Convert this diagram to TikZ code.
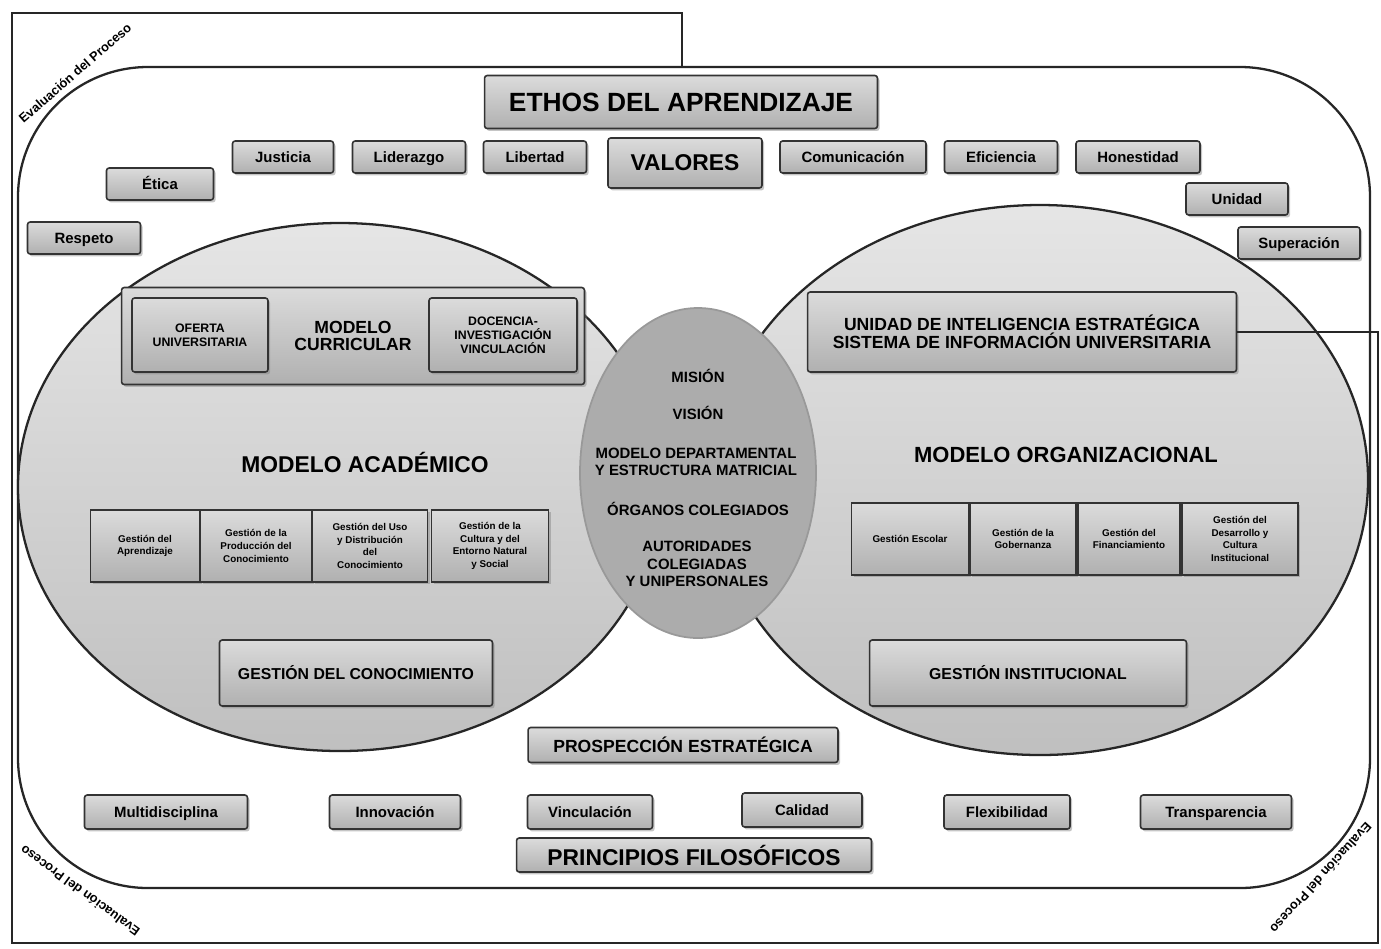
\documentclass[tikz,border=0pt]{standalone}
\usepackage{fontspec}
\setmainfont{Liberation Sans}
\usetikzlibrary{shadows}

\tikzset{
  caja/.style={draw=black!80, line width=0.9pt, rounded corners=1.5pt,
    top color=gray!28, bottom color=gray!62,
    drop shadow={shadow xshift=1.2pt, shadow yshift=-1.4pt, opacity=0.45},
    inner sep=1pt, align=center, font=\bfseries\fontsize{8.5}{9.5}\selectfont},
  valor/.style={caja, text height=1.6ex, text depth=0.4ex},
  grande/.style={caja, font=\bfseries\fontsize{#1}{#1}\selectfont},
  gestion/.style={caja, rounded corners=0pt, line width=1.1pt, font=\bfseries\fontsize{5.6}{7.2}\selectfont},
  texto/.style={align=center, font=\bfseries\fontsize{#1}{10}\selectfont},
  marco/.style={draw=black!85, line width=1.3pt},
  elipse/.style={draw=black!85, line width=1.3pt, top color=gray!20, bottom color=gray!50},
  rotulo/.style={font=\bfseries\fontsize{7.3}{8}\selectfont}
}

\begin{document}
\begin{tikzpicture}[x=0.02cm,y=-0.02cm]
\useasboundingbox (0,0) rectangle (1381,948);

% esquinas del marco exterior
\coordinate (m1) at (682,67);
\coordinate (m2) at (682,13);
\coordinate (m3) at (12,13);
\coordinate (m4) at (12,943);
\coordinate (m5) at (1378,943);
\coordinate (m6) at (1378,332);

\draw[marco, fill=white, rounded corners=2.6cm] (18,67) rectangle (1370,888);

% elipses
\draw[elipse] (340,487) ellipse [x radius=322, y radius=264];
\draw[elipse] (1040,480) ellipse [x radius=328, y radius=275];
\draw[draw=gray!80, line width=1pt, fill=gray!65] (698,473) ellipse [x radius=118, y radius=165];

% ethos y valores
\node[grande=15, minimum width=7.86cm, minimum height=1.06cm] (ethos) at (681,102) {ETHOS DEL APRENDIZAJE};
\node[grande=13, minimum width=3.08cm, minimum height=1cm] (valores) at (685,163) {VALORES};

\foreach \n/\x/\y/\w/\t in {jus/283/157/2.02/Justicia, lid/409/157/2.26/Liderazgo,
  lib/535/157/2.06/Libertad, com/853/157/2.92/Comunicación, efi/1001/157/2.26/Eficiencia,
  hon/1138/157/2.48/Honestidad, eti/160/184/2.14/Ética, res/84/238/2.26/Respeto,
  uni/1237/199/2.04/Unidad, sup/1299/243/2.44/Superación}
  \node[valor, minimum width=\w cm, minimum height=0.64cm] (\n) at (\x,\y) {\t};

% modelo academico
\node[grande=10, minimum width=9.26cm, minimum height=1.94cm] (mc) at (353,336) {MODELO\\CURRICULAR};
\node[caja, font=\bfseries\fontsize{7}{8}\selectfont, minimum width=2.72cm, minimum height=1.48cm] (ofe) at (200,335) {OFERTA\\UNIVERSITARIA};
\node[caja, font=\bfseries\fontsize{7}{8}\selectfont, minimum width=2.96cm, minimum height=1.48cm] (doc) at (503,335) {DOCENCIA-\\INVESTIGACIÓN\\VINCULACIÓN};
\node[texto=13] (acad) at (365,462) {MODELO ACADÉMICO};

\node[gestion, minimum width=2.18cm, minimum height=1.44cm] (ga) at (145,546) {Gestión del\\Aprendizaje};
\node[gestion, minimum width=2.22cm, minimum height=1.44cm] (gp) at (256,546) {Gestión de la\\Producción del\\Conocimiento};
\node[gestion, minimum width=2.30cm, minimum height=1.44cm] (gu) at (370,546) {Gestión del Uso\\y Distribución\\del\\Conocimiento};
\node[gestion, minimum width=2.34cm, minimum height=1.44cm] (gc) at (490,546) {Gestión de la\\Cultura y del\\Entorno Natural\\y Social};
\node[grande=9, minimum width=5.46cm, minimum height=1.32cm] (gcon) at (356,673) {GESTIÓN DEL CONOCIMIENTO};

% elipse central
\node[texto=8.5] (mis) at (698,376) {MISIÓN};
\node[texto=8.5] (vis) at (698,413) {VISIÓN};
\node[texto=8.5] (dep) at (696,462) {MODELO DEPARTAMENTAL\\Y ESTRUCTURA MATRICIAL};
\node[texto=8.5] (org) at (698,509) {ÓRGANOS COLEGIADOS};
\node[texto=8.5] (aut) at (697,564) {AUTORIDADES\\COLEGIADAS\\Y UNIPERSONALES};

% modelo organizacional
\node[grande=10, minimum width=8.58cm, minimum height=1.6cm] (uie) at (1022,332) {UNIDAD DE INTELIGENCIA ESTRATÉGICA\\SISTEMA DE INFORMACIÓN UNIVERSITARIA};
\node[texto=12.5] (orga) at (1066,455) {MODELO ORGANIZACIONAL};

\node[gestion, minimum width=2.34cm, minimum height=1.44cm] (ge) at (910,539) {Gestión Escolar};
\node[gestion, minimum width=2.12cm, minimum height=1.44cm] (gg) at (1023,539) {Gestión de la\\Gobernanza};
\node[gestion, minimum width=2.04cm, minimum height=1.44cm] (gf) at (1129,539) {Gestión del\\Financiamiento};
\node[gestion, minimum width=2.32cm, minimum height=1.44cm] (gd) at (1240,539) {Gestión del\\Desarrollo y\\Cultura\\Institucional};
\node[grande=9, minimum width=6.34cm, minimum height=1.32cm] (gins) at (1028,673) {GESTIÓN INSTITUCIONAL};

% principios
\node[grande=10, minimum width=6.2cm, minimum height=0.7cm] (pros) at (683,745) {PROSPECCIÓN ESTRATÉGICA};

\foreach \n/\x/\y/\w/\t in {mul/166/812/3.26/Multidisciplina, inn/395/812/2.62/Innovación,
  vin/590/812/2.5/Vinculación, cal/802/810/2.4/Calidad, fle/1007/812/2.52/Flexibilidad,
  tra/1216/812/3.02/Transparencia}
  \node[valor, minimum width=\w cm, minimum height=0.68cm] (\n) at (\x,\y) {\t};

\node[grande=13, minimum width=7.1cm, minimum height=0.68cm] (pf) at (694,855) {PRINCIPIOS FILOSÓFICOS};

% marco exterior
\draw[marco] (uie.east) -- (m6) -- (m5) -- (m4) -- (m3) -- (m2) -- (m1);

\node[rotulo, rotate=41] (ev1) at (75,73) {Evaluación del Proceso};
\node[rotulo, rotate=144] (ev2) at (80,891) {Evaluación del Proceso};
\node[rotulo, rotate=228] (ev3) at (1321,878) {Evaluación del Proceso};
\end{tikzpicture}
\end{document}
